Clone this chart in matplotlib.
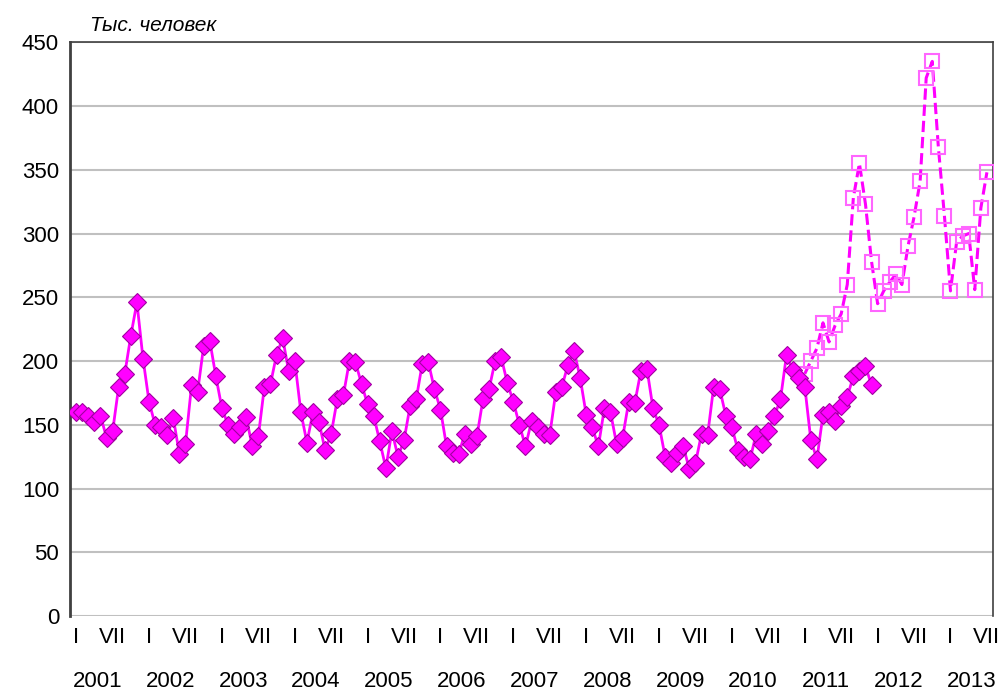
import numpy as np
import matplotlib.pyplot as plt

plt.rcParams['font.family'] = ['Liberation Sans', 'DejaVu Sans']

# solid series: monthly, Jan 2001 - Dec 2011
actual = [
    160, 160, 157, 152, 157, 140, 145, 180, 190, 220, 246, 202,   # 2001
    168, 150, 148, 142, 155, 127, 135, 181, 176, 212, 216, 188,   # 2002
    163, 150, 143, 148, 156, 133, 141, 180, 182, 205, 218, 192,   # 2003
    200, 160, 136, 160, 152, 130, 143, 170, 173, 200, 199, 182,   # 2004
    166, 157, 137, 116, 145, 125, 138, 165, 170, 198, 199, 178,   # 2005
    162, 133, 128, 127, 143, 135, 141, 170, 178, 200, 203, 183,   # 2006
    168, 150, 133, 153, 148, 143, 142, 176, 180, 197, 208, 187,   # 2007
    158, 148, 133, 163, 160, 135, 140, 168, 167, 192, 194, 163,   # 2008
    150, 125, 120, 128, 133, 115, 120, 143, 142, 180, 178, 157,   # 2009
    148, 130, 125, 123, 143, 135, 145, 157, 170, 205, 193, 187,   # 2010
    180, 138, 123, 158, 160, 153, 165, 172, 188, 192, 196, 181,   # 2011
]
# dashed series: monthly, Jan 2011 - Jul 2013
forecast = [
    190, 200, 210, 230, 215, 228, 237, 260, 328, 355, 323, 278,
    245, 255, 262, 268, 260, 290, 313, 341, 422, 435, 368, 314,
    255, 293, 298, 300, 256, 320, 348,
]
years = [str(y) for y in range(2001, 2014)]
forecast_start = 120

col = '#ff00ff'
fig = plt.figure(figsize=(10.02, 6.93), dpi=100)
ax = fig.add_axes([0.07, 0.111, 0.921, 0.828])

xa = np.arange(len(actual))
xf = np.arange(len(forecast)) + forecast_start
ax.plot(xf, forecast, '--', color=col, lw=2.2, marker='s', ms=10,
        mfc='none', mec='#ff66ff', mew=1.5, zorder=3)
ax.plot(xa, actual, '-', color=col, lw=2, marker='D', ms=9,
        mfc=col, mec='#a000a0', mew=0.8, zorder=4)

ax.set_xlim(-1, 151)
ax.set_ylim(0, 450)
ax.set_yticks(range(0, 451, 50))
ax.yaxis.grid(True, color='#c0c0c0', lw=1.5)
ax.set_axisbelow(True)

ticks, labels = [], []
for k in range(13):
    ticks += [12 * k, 12 * k + 6]
    labels += ['I', 'VII']
ax.set_xticks(ticks)
ax.set_xticklabels(labels)
ax.tick_params(axis='both', length=0, labelsize=16, pad=8)
for k, y in enumerate(years):
    ax.text(12 * k + 3.5, -0.095, y, transform=ax.get_xaxis_transform(),
            ha='center', va='top', fontsize=16)

for s in ax.spines.values():
    s.set_color('#404040')
    s.set_linewidth(1.2)
ax.spines['left'].set_linewidth(2)
ax.spines['bottom'].set_visible(False)

fig.text(0.09, 0.963, 'Тыс. человек', fontsize=15, style='italic', va='center')

fig.savefig('out.png')
